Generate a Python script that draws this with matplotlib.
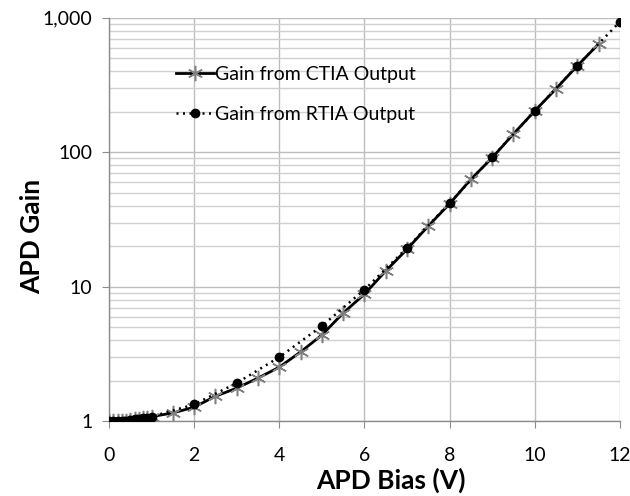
import matplotlib
matplotlib.use("Agg")
import matplotlib.pyplot as plt
from matplotlib.ticker import FixedLocator, FuncFormatter, LogLocator, NullFormatter

ctia_x = [0, 0.1, 0.2, 0.3, 0.4, 0.5, 0.6, 0.7, 0.8, 0.9, 1.0, 1.5, 2, 2.5, 3, 3.5, 4,
          4.5, 5, 5.5, 6, 6.5, 7, 7.5, 8, 8.5, 9, 9.5, 10, 10.5, 11, 11.5]
ctia_y = [1.0, 1.0, 1.0, 1.01, 1.01, 1.02, 1.03, 1.04, 1.05, 1.06, 1.08, 1.15, 1.27, 1.53,
          1.76, 2.09, 2.52, 3.27, 4.37, 6.37, 8.8, 13.1, 19.0, 28.3, 41.4, 63, 91, 137,
          203, 297, 440, 640]
rtia_x = [0, 0.1, 0.2, 0.3, 0.4, 0.5, 0.6, 0.7, 0.8, 0.9, 1.0, 2, 3, 4, 5, 6, 7, 8, 9, 10, 11, 12]
rtia_y = [1.0, 1.0, 1.0, 1.01, 1.01, 1.02, 1.03, 1.04, 1.05, 1.06, 1.08, 1.33, 1.92, 2.99,
          5.1, 9.5, 19.4, 42, 92, 203, 440, 935]

ctia_label = "Gain from CTIA Output"
rtia_label = "Gain from RTIA Output"
x_label = "APD Bias (V)"
y_label = "APD Gain"
x_ticks = [0, 2, 4, 6, 8, 10, 12]
y_ticks = [1, 10, 100, 1000]

plt.rcParams['font.family'] = ['Lato', 'DejaVu Sans']

fig = plt.figure(figsize=(6.3, 4.96), dpi=100)
ax = fig.add_axes([0.173, 0.151, 0.811, 0.813])

ax.plot(ctia_x, ctia_y, color='black', lw=2.0, linestyle='-', marker=(6, 2, 0),
        markersize=11, markeredgecolor='#808080', markerfacecolor='#808080',
        markeredgewidth=1.1, label=ctia_label, zorder=3)
ax.plot(rtia_x, rtia_y, color='black', lw=1.8, linestyle=(0, (0.8, 1.8)), marker='o',
        markersize=6, markeredgecolor='black', markerfacecolor='black',
        label=rtia_label, zorder=4)

ax.set_yscale('log')
ax.set_xlim(0, 12)
ax.set_ylim(1, 1000)
ax.xaxis.set_major_locator(FixedLocator(x_ticks))
ax.yaxis.set_major_locator(FixedLocator(y_ticks))
ax.yaxis.set_major_formatter(FuncFormatter(lambda v, p: f"{int(round(v)):,}"))
ax.yaxis.set_minor_locator(LogLocator(base=10, subs=range(2, 10)))
ax.yaxis.set_minor_formatter(NullFormatter())

ax.grid(True, which='major', axis='both', color='#bdbdbd', lw=1.0)
ax.grid(True, which='minor', axis='y', color='#d0d0d0', lw=1.0)
ax.set_axisbelow(True)

for s in ['top', 'right']:
    ax.spines[s].set_visible(False)
for s in ['left', 'bottom']:
    ax.spines[s].set_color('#8c8c8c')
    ax.spines[s].set_linewidth(1.0)

ax.tick_params(axis='both', which='major', direction='out', length=5, color='#8c8c8c',
               labelsize=14, labelcolor='black', pad=7)
ax.tick_params(axis='y', which='minor', length=0)
ax.tick_params(axis='x', pad=14)

ax.set_xlabel(x_label, fontsize=19, fontweight='bold', va='center')
ax.xaxis.set_label_coords(0.552, -0.146)
ax.set_ylabel(y_label, fontsize=19, fontweight='bold', va='center')
ax.yaxis.set_label_coords(-0.15, 0.457)

leg = ax.legend(loc='upper left', bbox_to_anchor=(0.115, 0.9), frameon=False,
                fontsize=14, handlelength=2.0, handletextpad=0.05, labelspacing=1.2,
                borderaxespad=0)

fig.savefig("out.png", dpi=100)
